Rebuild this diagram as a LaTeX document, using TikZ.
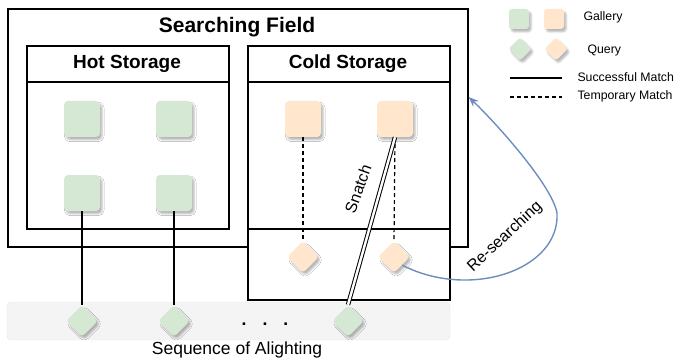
\documentclass[tikz,border=0pt]{standalone}
\usepackage{fontspec}
\setmainfont{Liberation Sans}
\usepackage{xcolor}
\usetikzlibrary{arrows.meta,positioning,shadows.blur}

\definecolor{galgreen}{HTML}{D5E8D4}
\definecolor{qorange}{HTML}{FFE6CC}
\definecolor{reblue}{HTML}{6C8EBF}
\definecolor{stripgray}{HTML}{F4F4F4}

\newcommand\fieldfont{\fontsize{21}{24}\selectfont\bfseries}
\newcommand\storefont{\fontsize{19}{22}\selectfont\bfseries}
\newcommand\seqfont{\fontsize{17.5}{20}\selectfont}
\newcommand\lblfont{\fontsize{16}{18}\selectfont}
\newcommand\legfont{\fontsize{12.3}{14}\selectfont}

\begin{document}
\begin{tikzpicture}[
  x=1pt,y=-1pt,
  box/.style={draw,line width=1.3pt,fill=white,inner sep=0pt},
  softshadow/.style={blur shadow={shadow xshift=2.2pt,shadow yshift=-2.8pt,shadow blur radius=1.8pt,shadow opacity=28}},
  gal/.style={fill=#1,draw=none,rounded corners=4pt,minimum size=36pt,inner sep=0pt,softshadow},
  qry/.style={fill=#1,draw=none,rotate=45,rounded corners=4pt,minimum size=22.6pt,inner sep=0pt,softshadow},
  smallgal/.style={gal=#1,minimum size=20pt,rounded corners=3pt},
  smallqry/.style={qry=#1,minimum size=16.5pt,rounded corners=3pt},
  match/.style={line width=1.2pt},
  tempmatch/.style={line width=1.2pt,dash pattern=on 4pt off 3pt},
  snatch/.style={draw,double,double distance=2.4pt,line width=1pt},
  research/.style={draw=reblue,line width=1.4pt,-{Stealth[length=10pt,width=8pt]}}
]
  \useasboundingbox (0,0) rectangle (676,358);

  % boxes
  \node[box,minimum width=460pt,minimum height=238pt] (field) at (238,128) {};
  \node[font=\fieldfont] (fieldtitle) at (237,27) {Searching Field};
  \node[box,minimum width=202pt,minimum height=183pt] (hot) at (128,137.5) {};
  \draw[line width=1.3pt] (hot.north west |- 0,82) -- (hot.north east |- 0,82);
  \node[font=\storefont] (hottitle) at (127,64) {Hot Storage};
  \node[box,minimum width=202pt,minimum height=254pt] (cold) at (349,173) {};
  \draw[line width=1.3pt] (cold.north west |- 0,82) -- (cold.north east |- 0,82);
  \draw[line width=1.3pt] (cold.north west |- 0,229) -- (cold.north east |- 0,229);
  \node[font=\storefont] (coldtitle) at (348,64) {Cold Storage};

  % sequence strip
  \node[fill=stripgray,draw=black!10,rounded corners=4pt,minimum width=443pt,minimum height=38pt] (seqbar) at (228.5,321) {};
  \node[font=\seqfont] (seqlbl) at (237,350) {Sequence of Alighting};
  \node[font=\seqfont\bfseries,anchor=base] (dots) at (265,325) {.\hspace{16pt}.\hspace{16pt}.};

  % gallery and queries
  \node[gal=galgreen] (h1) at (82,119) {};
  \node[gal=galgreen] (h2) at (174,119) {};
  \node[gal=galgreen] (h3) at (82,193) {};
  \node[gal=galgreen] (h4) at (174,193) {};
  \node[gal=qorange] (c1) at (303,119) {};
  \node[gal=qorange] (c2) at (395,119) {};
  \node[qry=qorange] (q1) at (303,257) {};
  \node[qry=qorange] (q2) at (394,257) {};
  \node[qry=galgreen] (s1) at (82,321) {};
  \node[qry=galgreen] (s2) at (174,321) {};
  \node[qry=galgreen] (s3) at (348,321) {};

  % matches
  \draw[match] (h3.south) -- (s1.north east);
  \draw[match] (h4.south) -- (s2.north east);
  \draw[tempmatch] (c1.south) -- (q1.north east);
  \draw[tempmatch] (c2.south) -- (q2.north east);
  \draw[snatch] (c2.south) -- (s3.north east);
  \node[font=\lblfont,rotate=70] (snatchlbl) at (358,189) {Snatch};

  % re-searching
  \draw[research] (q2.south) .. controls (470,300) and (560,270) .. (557,213)
    .. controls (552,185) and (495,122) .. (field.east |- 0,97);
  \node[font=\lblfont,rotate=43] (relbl) at (505,237) {Re-searching};

  % legend
  \node[smallgal=galgreen] (lg1) at (519,19) {};
  \node[smallgal=qorange] (lg2) at (554,19) {};
  \node[font=\legfont,anchor=west] (lggal) at (580,17) {Gallery};
  \node[smallqry=galgreen] (lq1) at (520,49) {};
  \node[smallqry=qorange] (lq2) at (556,49) {};
  \node[font=\legfont,anchor=west] (lgqry) at (584,50) {Query};
  \coordinate (lm1) at (510,78);
  \coordinate (lm2) at (562,78);
  \coordinate (lt1) at (510,97);
  \coordinate (lt2) at (562,97);
  \draw[match] (lm1) -- (lm2);
  \draw[tempmatch] (lt1) -- (lt2);
  \node[font=\legfont,anchor=west] (lgsucc) at (574,77) {Successful Match};
  \node[font=\legfont,anchor=west] (lgtemp) at (574,96) {Temporary Match};
\end{tikzpicture}
\end{document}
